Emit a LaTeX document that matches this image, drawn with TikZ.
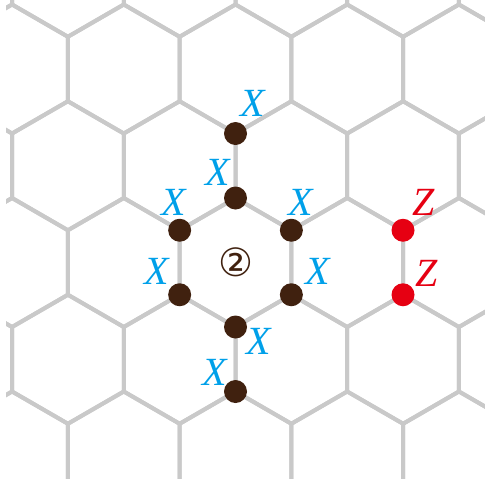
\documentclass[tikz,border=0pt]{standalone}
\usepackage{fontspec}
\newfontfamily\lblfont{Liberation Serif}
\newfontfamily\symfont{DejaVu Sans}
\definecolor{gridgray}{HTML}{C9C9C9}
\definecolor{dotbrown}{HTML}{40210F}
\definecolor{xblue}{HTML}{00A0E9}
\definecolor{zred}{HTML}{E60012}
\tikzset{
  gridline/.style={draw=gridgray, line width=4pt, line join=round},
  vdot/.style={circle, fill=dotbrown, minimum size=23pt, inner sep=0pt},
  zdot/.style={circle, fill=zred, minimum size=23pt, inner sep=0pt},
  xlab/.style={text=xblue, inner sep=0pt, font={\lblfont\itshape\fontsize{40}{40}\selectfont}},
  zlab/.style={text=zred, inner sep=0pt, font={\lblfont\itshape\fontsize{40}{40}\selectfont}},
  numlab/.style={text=dotbrown, inner sep=0pt, font={\symfont\fontsize{39}{39}\selectfont}}
}
\begin{document}
\begin{tikzpicture}[x=1pt,y=-1pt]
\useasboundingbox (0,0) rectangle (485,483);
\begin{scope}
  \clip (6,-2) rectangle (490,478);
  \foreach \j in {-3,...,3}{
    \foreach \i in {-4,...,4}{
      \pgfmathsetmacro\cx{235.5+111.72*(\i+0.5*\j)}
      \pgfmathsetmacro\cy{262.5-96.75*\j}
      \draw[gridline] (\cx,\cy) +(30:64.5) -- +(90:64.5) -- +(150:64.5) -- +(210:64.5) -- +(270:64.5) -- +(330:64.5) -- cycle;
    }
  }
\end{scope}
% vertices
\node[vdot] (v1) at (235.5,133.5) {};
\node[vdot] (v2) at (235.5,198) {};
\node[vdot] (v3) at (179.65,230.25) {};
\node[vdot] (v4) at (291.35,230.25) {};
\node[vdot] (v5) at (179.65,294.75) {};
\node[vdot] (v6) at (291.35,294.75) {};
\node[vdot] (v7) at (235.5,327) {};
\node[vdot] (v8) at (235.5,391.5) {};
\node[zdot] (z1) at (403,230.25) {};
\node[zdot] (z2) at (403,294.75) {};
% labels
\node[xlab] (l1) at (253,103) {X};
\node[xlab] (l2) at (218,172) {X};
\node[xlab] (l3) at (174,202) {X};
\node[xlab] (l4) at (301,202) {X};
\node[xlab] (l5) at (157,271) {X};
\node[xlab] (l6) at (318,271) {X};
\node[xlab] (l7) at (259,341) {X};
\node[xlab] (l8) at (215,372) {X};
\node[zlab] (m1) at (424,202) {Z};
\node[zlab] (m2) at (427,273) {Z};
\node[numlab] (c) at (235.5,262) {②};
\end{tikzpicture}
\end{document}
